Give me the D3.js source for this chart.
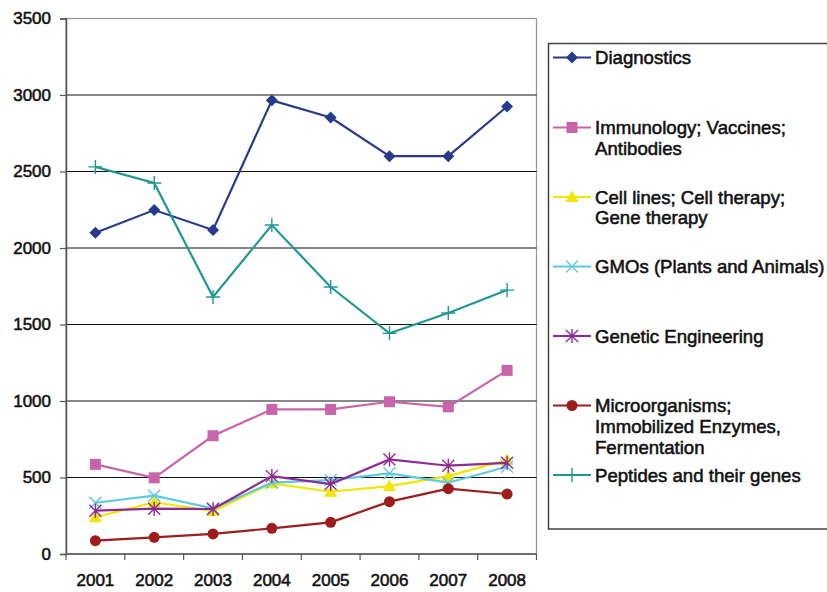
<!DOCTYPE html>
<html>
<head>
<meta charset="utf-8">
<script src="https://cdn.jsdelivr.net/npm/d3@7/dist/d3.min.js"></script>
<style>
  html, body { margin: 0; padding: 0; background: #fff; }
  svg { display: block; }
  text { font-family: "Liberation Sans", Arial, sans-serif; fill: #111; }
</style>
</head>
<body>
<svg id="chart" width="827" height="592"></svg>
<script>
// Patent counts per biotech field, 2001–2008
const years = ["2001", "2002", "2003", "2004", "2005", "2006", "2007", "2008"];
const yTicks = [0, 500, 1000, 1500, 2000, 2500, 3000, 3500];

const diagnostics      = [2100, 2248, 2118, 2965, 2853, 2600, 2600, 2925];
const immunology       = [586, 498, 773, 945, 945, 995, 962, 1200];
const cellLines        = [240, 338, 281, 462, 407, 444, 509, 614];
const gmos             = [335, 381, 298, 466, 483, 527, 466, 570];
const geneticEng       = [283, 296, 294, 509, 457, 618, 577, 596];
const microorganisms   = [87, 109, 131, 168, 207, 342, 427, 392];
const peptides         = [2530, 2425, 1680, 2150, 1745, 1442, 1575, 1725];

const seriesNames = [
  ["Diagnostics"],
  ["Immunology; Vaccines;", "Antibodies"],
  ["Cell lines; Cell therapy;", "Gene therapy"],
  ["GMOs (Plants and Animals)"],
  ["Genetic Engineering"],
  ["Microorganisms;", "Immobilized Enzymes,", "Fermentation"],
  ["Peptides and their genes"]
];
const seriesValues = [diagnostics, immunology, cellLines, gmos, geneticEng, microorganisms, peptides];
const seriesColors = ["#283a8c", "#c864aa", "#f2e600", "#5fc9e2", "#8e2b92", "#9e1c1c", "#1f9893"];
const seriesMarkers = ["diamond", "square", "triangle", "x", "asterisk", "circle", "plus"];

const svg = d3.select("#chart");
const margin = { left: 66, right: 536.5, top: 18.5, bottom: 554 };

const x = d3.scaleBand().domain(years).range([margin.left, margin.right]);
const y = d3.scaleLinear().domain([0, 3500]).range([margin.bottom, margin.top]);

// plot frame (top and right edges in grey)
svg.append("rect")
  .attr("x", margin.left).attr("y", margin.top)
  .attr("width", margin.right - margin.left).attr("height", margin.bottom - margin.top)
  .attr("fill", "none").attr("stroke", "#9a9a9a").attr("stroke-width", 1.3);

// horizontal gridlines
svg.append("g").selectAll("line")
  .data(yTicks.filter(d => d > 0 && d < 3500))
  .join("line")
  .attr("x1", margin.left).attr("x2", margin.right)
  .attr("y1", d => y(d)).attr("y2", d => y(d))
  .attr("stroke", "#111").attr("stroke-width", 1.2);

// y axis
const yAxis = svg.append("g")
  .attr("transform", `translate(${margin.left},0)`)
  .call(d3.axisLeft(y).tickValues(yTicks).tickSize(6).tickPadding(9).tickFormat(d3.format("d")));
yAxis.select(".domain").attr("stroke", "#555").attr("stroke-width", 1.5);
yAxis.selectAll(".tick line").attr("stroke", "#555").attr("stroke-width", 1.2);
yAxis.selectAll("text").attr("font-size", 17).attr("font-family", "Liberation Sans, Arial, sans-serif")
  .attr("fill", "#111").attr("stroke", "#111").attr("stroke-width", 0.55);

// x axis: ticks sit on the category boundaries
const xAxisG = svg.append("g").attr("transform", `translate(0,${margin.bottom})`);
xAxisG.append("line")
  .attr("x1", margin.left).attr("x2", margin.right).attr("y1", 0).attr("y2", 0)
  .attr("stroke", "#555").attr("stroke-width", 1.5);
const boundaries = years.map(d => x(d)).concat([x(years[years.length - 1]) + x.bandwidth()]);
xAxisG.selectAll("line.tk").data(boundaries).join("line").attr("class", "tk")
  .attr("x1", d => d).attr("x2", d => d).attr("y1", 0).attr("y2", 6)
  .attr("stroke", "#555").attr("stroke-width", 1.2);
xAxisG.selectAll("text").data(years).join("text")
  .attr("x", d => x(d) + x.bandwidth() / 2).attr("y", 32)
  .attr("text-anchor", "middle").attr("font-size", 17)
  .attr("stroke", "#111").attr("stroke-width", 0.55)
  .text(d => d);

// marker shapes
function drawMarker(g, type, color, cx, cy) {
  const s = g.append("g").attr("transform", `translate(${cx},${cy})`);
  if (type === "diamond") {
    s.append("path").attr("d", "M0,-6L6,0L0,6L-6,0Z").attr("fill", color);
  } else if (type === "square") {
    s.append("rect").attr("x", -5.5).attr("y", -5.5).attr("width", 11).attr("height", 11).attr("fill", color);
  } else if (type === "triangle") {
    s.append("path").attr("d", "M0,-6.5L6.5,5L-6.5,5Z").attr("fill", color);
  } else if (type === "x") {
    s.append("path").attr("d", "M-6,-6L6,6M-6,6L6,-6").attr("stroke", color).attr("stroke-width", 1.4);
  } else if (type === "asterisk") {
    s.append("path").attr("d", "M-6,-6L6,6M-6,6L6,-6M0,-7L0,7").attr("stroke", color).attr("stroke-width", 1.4);
  } else if (type === "circle") {
    s.append("circle").attr("r", 5.5).attr("fill", color);
  } else if (type === "plus") {
    s.append("path").attr("d", "M-7,0L7,0M0,-7L0,7").attr("stroke", color).attr("stroke-width", 1.4);
  }
}

const line = d3.line()
  .x((d, i) => x(years[i]) + x.bandwidth() / 2)
  .y(d => y(d));

const plot = svg.append("g");
seriesValues.forEach((vals, si) => {
  const g = plot.append("g");
  g.append("path").attr("d", line(vals))
    .attr("fill", "none").attr("stroke", seriesColors[si]).attr("stroke-width", 2.2);
  vals.forEach((v, i) => drawMarker(g, seriesMarkers[si], seriesColors[si], x(years[i]) + x.bandwidth() / 2, y(v)));
});

// legend
const legend = svg.append("g");
legend.append("rect")
  .attr("x", 548.5).attr("y", 43.5).attr("width", 290).attr("height", 485.5)
  .attr("fill", "#fff").attr("stroke", "#444").attr("stroke-width", 1.5);
const rowY = [57.5, 127.5, 197, 266.5, 336, 405.5, 475];
seriesNames.forEach((lines, si) => {
  const cy = rowY[si];
  legend.append("line").attr("x1", 553).attr("x2", 591).attr("y1", cy).attr("y2", cy)
    .attr("stroke", seriesColors[si]).attr("stroke-width", 2.2);
  drawMarker(legend, seriesMarkers[si], seriesColors[si], 572, cy);
  const t = legend.append("text").attr("x", 595).attr("y", cy + 6.5)
    .attr("font-size", 18.6).attr("stroke", "#111").attr("stroke-width", 0.55);
  lines.forEach((l, li) => t.append("tspan").attr("x", 595).attr("dy", li === 0 ? 0 : 20.8).text(l));
});
</script>
</body>
</html>
